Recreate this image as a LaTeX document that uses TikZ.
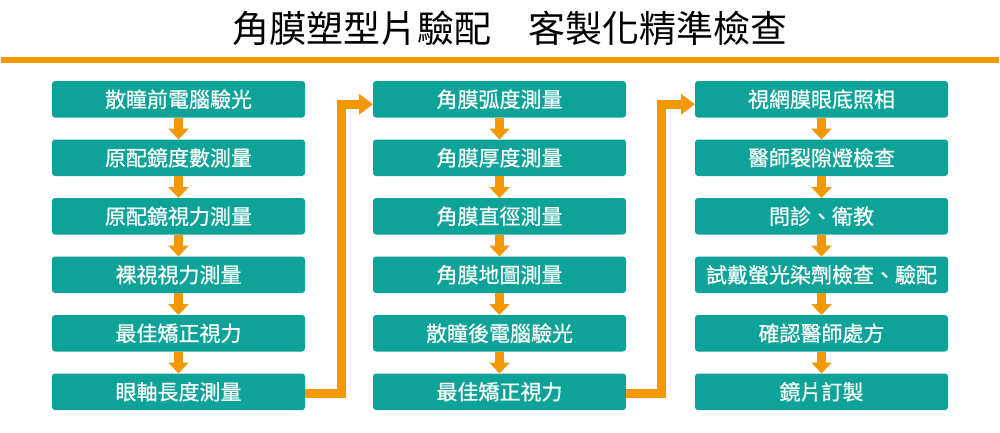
\documentclass[tikz,border=0pt]{standalone}
\usepackage{fontspec}
\usetikzlibrary{arrows.meta,calc}
\newfontfamily\cjk{Noto Sans CJK TC}
\newfontfamily\cjkb[FakeBold=0.6]{Noto Sans CJK TC}
\definecolor{teal1}{RGB}{14,163,153}
\definecolor{orng}{RGB}{243,152,0}
\begin{document}
\begin{tikzpicture}[x=1pt,y=-1pt,
  stepbox/.style={draw=none,fill=teal1,rounded corners=3pt,anchor=north west,
    minimum width=253pt,minimum height=36.5pt,inner sep=0pt,outer sep=0pt,
    text=white,font=\cjkb\fontsize{21}{21}\selectfont},
  downarrow/.style={draw=orng,line width=9pt,-{Triangle[length=11pt,width=20pt]}},
  link/.style={draw=orng,line width=9pt,-{Triangle[length=14pt,width=20pt]}}]
\useasboundingbox (0,0) rectangle (1000,432);
\node[font=\cjk\fontsize{37}{37}\selectfont,inner sep=0pt] (title) at (510,28) {角膜塑型片驗配　客製化精準檢查};
\coordinate (ls) at (1,60);
\coordinate (le) at (999,60);
\draw[orng,line width=5.5pt] (ls) -- (le);
% column 1
\node[stepbox] (a1) at (52,81) {散瞳前電腦驗光};
\node[stepbox] (a2) at (52,139.5) {原配鏡度數測量};
\node[stepbox] (a3) at (52,198) {原配鏡視力測量};
\node[stepbox] (a4) at (52,256.5) {裸視視力測量};
\node[stepbox] (a5) at (52,315) {最佳矯正視力};
\node[stepbox] (a6) at (52,373.5) {眼軸長度測量};
% column 2
\node[stepbox] (b1) at (373,81) {角膜弧度測量};
\node[stepbox] (b2) at (373,139.5) {角膜厚度測量};
\node[stepbox] (b3) at (373,198) {角膜直徑測量};
\node[stepbox] (b4) at (373,256.5) {角膜地圖測量};
\node[stepbox] (b5) at (373,315) {散瞳後電腦驗光};
\node[stepbox] (b6) at (373,373.5) {最佳矯正視力};
% column 3
\node[stepbox] (c1) at (695,81) {視網膜眼底照相};
\node[stepbox] (c2) at (695,139.5) {醫師裂隙燈檢查};
\node[stepbox] (c3) at (695,198) {問診、衛教};
\node[stepbox] (c4) at (695,256.5) {試戴螢光染劑檢查、驗配};
\node[stepbox] (c5) at (695,315) {確認醫師處方};
\node[stepbox] (c6) at (695,373.5) {鏡片訂製};
\foreach \c in {a,b,c}{
  \foreach \i/\j in {1/2,2/3,3/4,4/5,5/6}{
    \draw[downarrow] (\c\i.south) -- (\c\j.north);
  }
}
\draw[link] ([yshift=-1.5pt]a6.east) -- ++(36,0) |- ([yshift=-5pt]b1.west);
\draw[link] ([yshift=-1.5pt]b6.east) -- ++(35,0) |- ([yshift=-5pt]c1.west);
\end{tikzpicture}
\end{document}
